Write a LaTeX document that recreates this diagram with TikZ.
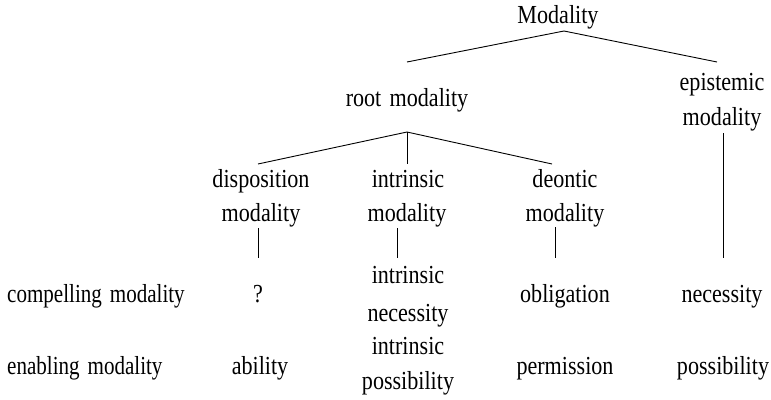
\documentclass[tikz,border=0pt]{standalone}
\usepackage{fontspec}
\setmainfont[FakeStretch=0.85,WordSpace=1.5]{Liberation Serif}
\begin{document}
\begin{tikzpicture}[x=1pt,y=-1pt,
  lbl/.style={anchor=base,inner sep=0pt,font=\fontsize{26}{30}\selectfont},
  lblw/.style={lbl,anchor=base west},
  narrow/.style={font=\fontsize{26}{30}\addfontfeatures{FakeStretch=0.81}\selectfont},
  edge/.style={draw=black,line width=0.9pt}]
\useasboundingbox[fill=white] (0,0) rectangle (771,399);
% nodes
\node[lbl] (top) at (558,23) {Modality};
\node[lbl] (root) at (407,106) {root modality};
\node[lbl] (epi1) at (722,90) {epistemic};
\node[lbl] (epi2) at (722,125) {modality};
\node[lbl] (disp1) at (261,187) {disposition};
\node[lbl] (disp2) at (261,221) {modality};
\node[lbl] (intr1) at (408,187) {intrinsic};
\node[lbl] (intr2) at (407,221) {modality};
\node[lbl] (deon1) at (565,187) {deontic};
\node[lbl] (deon2) at (565,221) {modality};
\node[lblw,narrow] (comp) at (7,302) {compelling modality};
\node[lbl] (q) at (258,302) {?};
\node[lbl] (in1) at (408,283) {intrinsic};
\node[lbl] (nec1) at (408,321) {necessity};
\node[lbl] (obl) at (565,302) {obligation};
\node[lbl] (nec) at (722,302) {necessity};
\node[lblw,narrow] (enab) at (7,374) {enabling modality};
\node[lbl] (abil) at (260,374) {ability};
\node[lbl] (in2) at (408,354) {intrinsic};
\node[lbl] (pos1) at (408,389) {possibility};
\node[lbl] (perm) at (565,374) {permission};
\node[lbl] (pos2) at (723,374) {possibility};
% connector points
\coordinate (tA) at (564,31);
\coordinate (tL) at (407,62);
\coordinate (tR) at (717,62);
\coordinate (rA) at (407,132);
\coordinate (rL) at (258,164);
\coordinate (rM) at (407,164);
\coordinate (rR) at (552,164);
\coordinate (dT) at (258,228);
\coordinate (dB) at (258,258);
\coordinate (iT) at (397,228);
\coordinate (iB) at (397,258);
\coordinate (oT) at (555,227);
\coordinate (oB) at (555,258);
\coordinate (eT) at (723,133);
\coordinate (eB) at (723,258);
% connectors
\draw[edge] (tL) -- (tA) -- (tR);
\draw[edge] (rL) -- (rA) -- (rR);
\draw[edge] (rA) -- (rM);
\draw[edge] (dT) -- (dB);
\draw[edge] (iT) -- (iB);
\draw[edge] (oT) -- (oB);
\draw[edge] (eT) -- (eB);
\end{tikzpicture}
\end{document}
